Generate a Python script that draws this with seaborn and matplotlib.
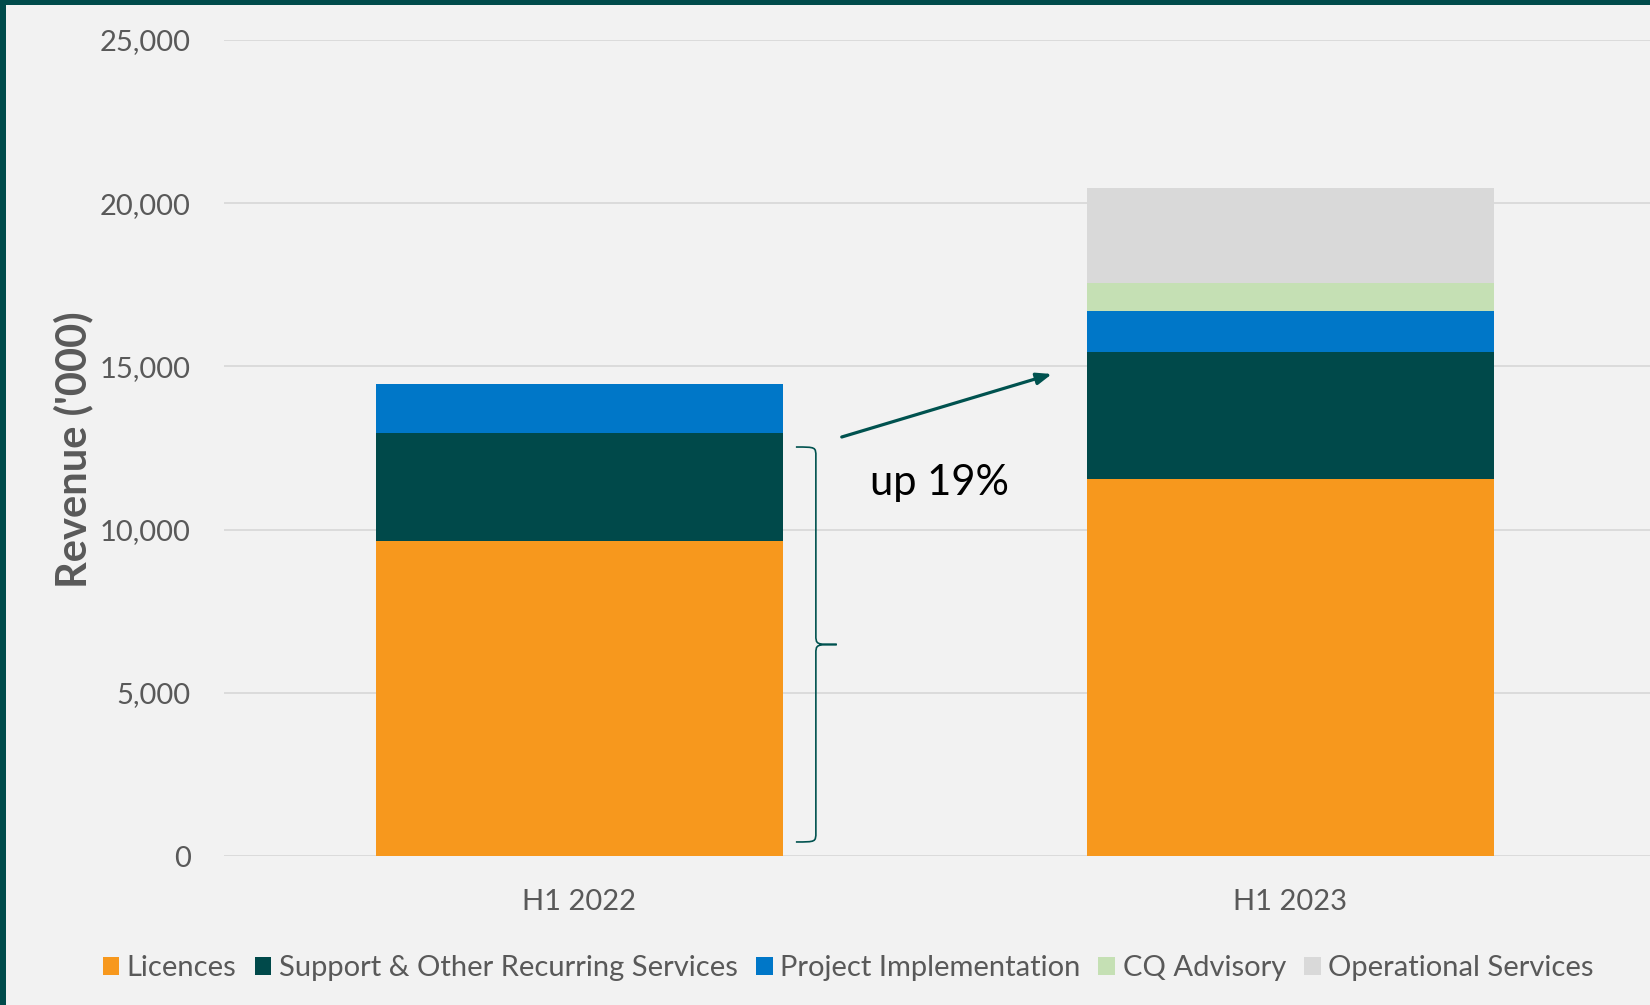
import matplotlib
matplotlib.use("Agg")
import matplotlib.pyplot as plt
import seaborn as sns
import pandas as pd
from matplotlib.patches import Patch, PathPatch, Rectangle
from matplotlib.path import Path

# données (revenus en milliers)
periods = ["H1 2022", "H1 2023"]
licences = [9650, 11560]
support = [3300, 3890]
project = [1510, 1250]
cq_advisory = [0, 850]
operational = [0, 2910]

series_names = ["Licences", "Support & Other Recurring Services",
                "Project Implementation", "CQ Advisory", "Operational Services"]
series_colors = ["#F7981D", "#00494A", "#0077C8", "#C5E0B4", "#D9D9D9"]
y_ticks = [0, 5000, 10000, 15000, 20000, 25000]
y_tick_labels = ["0", "5,000", "10,000", "15,000", "20,000", "25,000"]

sns.set_style("white")
plt.rcParams['font.family'] = ['Lato', 'DejaVu Sans']

bg = "#F2F2F2"
txt = "#595959"
teal = "#00524F"

fig = plt.figure(figsize=(16.5, 10.05), dpi=100, facecolor=bg)
ax = fig.add_axes([224 / 1650, 1 - 856 / 1005, 1 - 224 / 1650, (856 - 40) / 1005])
ax.set_facecolor(bg)

# empilement : on trace les cumuls du plus haut au plus bas
df = pd.DataFrame({"period": periods, "Licences": licences,
                   "Support & Other Recurring Services": support,
                   "Project Implementation": project,
                   "CQ Advisory": cq_advisory,
                   "Operational Services": operational})
cum = df[series_names].cumsum(axis=1)
for name, col in reversed(list(zip(series_names, series_colors))):
    sns.barplot(x=df["period"], y=cum[name], color=col, width=0.572,
                saturation=1, ax=ax, zorder=3, linewidth=0)

ax.set_xlim(-0.5, 1.506)
ax.set_ylim(0, 25000)
ax.set_yticks(y_ticks)
ax.set_yticklabels(y_tick_labels)
ax.grid(axis="y", color="#D9D9D9", linewidth=1.3, zorder=0)
ax.set_axisbelow(True)
for s in ax.spines.values():
    s.set_visible(False)
ax.tick_params(axis="both", length=0, labelsize=21, labelcolor=txt)
ax.tick_params(axis="y", pad=24)
ax.tick_params(axis="x", pad=24)
ax.set_xlabel("")
ax.set_ylabel("Revenue ('000)", fontsize=30, fontweight="bold", color=txt)
ax.yaxis.set_label_coords(-0.0915, 0.4975)

# flèche et texte "up 19%"
ax.annotate("", xy=(0.6646, 14767), xytext=(0.369, 12837),
            arrowprops=dict(arrowstyle="-|>,head_length=0.9,head_width=0.35",
                            color=teal, lw=2.3, shrinkA=0, shrinkB=0), zorder=5)
ax.text(0.507, 11430, "up 19%", fontsize=30, color="black",
        ha="center", va="center", zorder=5)

# accolade
x0, x1, x2 = 0.3045, 0.3326, 0.362
ytop, ybot = 12530, 430
ymid = (ytop + ybot) / 2
d = 300
verts = [(x0, ytop), (x1, ytop), (x1, ytop), (x1, ytop - d),
         (x1, ymid + d),
         (x1, ymid), (x1, ymid), (x2, ymid),
         (x2, ymid), (x1, ymid), (x1, ymid), (x1, ymid - d),
         (x1, ybot + d),
         (x1, ybot), (x1, ybot), (x0, ybot)]
codes = [Path.MOVETO, Path.CURVE4, Path.CURVE4, Path.CURVE4,
         Path.LINETO,
         Path.CURVE4, Path.CURVE4, Path.CURVE4,
         Path.MOVETO, Path.CURVE4, Path.CURVE4, Path.CURVE4,
         Path.LINETO,
         Path.CURVE4, Path.CURVE4, Path.CURVE4]
ax.add_patch(PathPatch(Path(verts, codes), fill=False, edgecolor=teal, lw=1.2, zorder=5))

# légende en bas
handles = [Patch(facecolor=c, edgecolor="none") for c in series_colors]
fig.legend(handles, series_names, loc="center", bbox_to_anchor=(0.514, 0.0368),
           ncol=5, frameon=False, fontsize=21, labelcolor=txt,
           handlelength=0.58, handleheight=0.58, handletextpad=0.25,
           columnspacing=0.62)

# bordure foncée à gauche et en haut
fig.add_artist(Rectangle((0, 0), 6 / 1650, 1, transform=fig.transFigure,
                         facecolor="#004B4B", edgecolor="none"))
fig.add_artist(Rectangle((0, 1 - 5 / 1005), 1, 5 / 1005, transform=fig.transFigure,
                         facecolor="#004B4B", edgecolor="none"))

fig.savefig("out.png", dpi=100, facecolor=bg)
